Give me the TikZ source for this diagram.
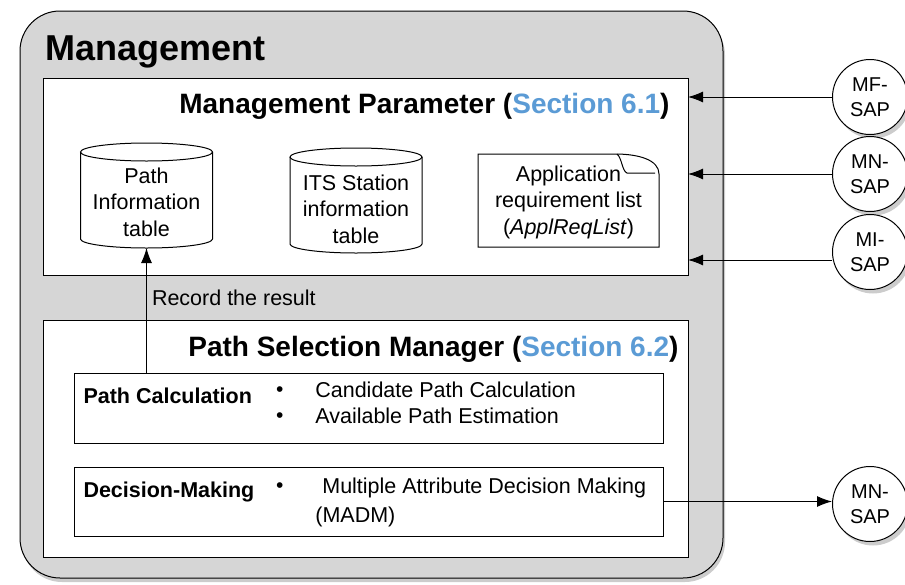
\documentclass[tikz,border=0pt]{standalone}
\usepackage{fontspec}
\setmainfont{Liberation Sans}
\usetikzlibrary{positioning}
\usetikzlibrary{arrows.meta}
\usetikzlibrary{shadows}

\definecolor{secblue}{RGB}{91,155,213}
\definecolor{mgmtgray}{RGB}{214,214,214}

\newcommand{\sect}[1]{{\color{secblue}Section #1}}
\newcommand{\sinkit}[2]{\raisebox{-#1}[\height][\depth]{\begin{tabular}{@{}c@{}}#2\end{tabular}}}
\newcommand{\bul}{\raisebox{1pt}{\fontsize{21}{21}\selectfont •}}
\newcommand{\drawdrum}[1]{%
  \path[draw] ([yshift=-9pt]#1.north west) -- ([yshift=9pt]#1.south west)
    arc[start angle=180, end angle=360, x radius=66pt, y radius=9pt]
    -- ([yshift=-9pt]#1.north east);
  \path[draw] ([yshift=-9pt]#1.north) ellipse[x radius=66pt, y radius=9pt];}

\begin{document}
\begin{tikzpicture}[x=1pt, y=1pt, line width=1pt, >={Latex[length=15pt,width=11pt]},
    panel/.style={draw, fill=white, inner sep=0pt, outer sep=0pt},
    bigtitle/.style={font=\fontsize{36}{40}\selectfont\bfseries, inner sep=0pt},
    headline/.style={font=\fontsize{28}{32}\selectfont\bfseries, inner sep=0pt},
    bodytext/.style={font=\fontsize{21.5}{26.5}\selectfont, inner sep=0pt, outer sep=0pt},
    boldlabel/.style={font=\fontsize{21.5}{26}\selectfont\bfseries, inner sep=0pt},
    drum/.style={bodytext, minimum width=132pt, minimum height=105pt},
    sapnode/.style={circle, draw, fill=white, minimum size=75pt, inner sep=0pt, align=center,
      font=\fontsize{20}{25}\selectfont,
      drop shadow={shadow xshift=3pt, shadow yshift=-4pt, opacity=0.4}}]
  \useasboundingbox (0,0) rectangle (905,-584);

  % management block
  \node[panel, fill=mgmtgray, rounded corners=40pt, minimum width=703pt, minimum height=567pt,
    drop shadow={shadow xshift=2pt, shadow yshift=-4pt, opacity=0.4}] (mgmt) at (371.5,-294.5) {};
  \node[bigtitle, anchor=base west] (mgmttitle) at (45,-60) {Management};

  % parameters
  \node[panel, minimum width=645pt, minimum height=197pt] (param) at (365.5,-176.5) {};
  \node[headline, anchor=base east] (paramtitle) at (670,-113) {Management Parameter (\sect{6.1})};
  \node[drum] (pathtab) at (146.5,-195.5) {\sinkit{9pt}{Path\\Information\\table}};
  \drawdrum{pathtab}
  \node[drum] (itstab) at (356,-200.5) {\sinkit{11pt}{ITS Station\\information\\table}};
  \drawdrum{itstab}
  \node[bodytext, minimum width=181pt, minimum height=93pt] (appl) at (568.5,-200.5)
    {\sinkit{2pt}{Application\\requirement list\\(\textit{ApplReqList})}};
  \path[draw] (appl.south west) -- (appl.north west) -- ([xshift=-44pt]appl.north east)
    .. controls ([xshift=-20pt]appl.north east) and ([yshift=-6pt]appl.north east) .. ([yshift=-20pt]appl.north east)
    -- (appl.south east) -- cycle;
  \path[draw] ([xshift=-42pt]appl.north east)
    .. controls ([xshift=-37pt,yshift=-4pt]appl.north east) and ([xshift=-37pt,yshift=-17pt]appl.north east) .. ([xshift=-32pt,yshift=-19pt]appl.north east)
    -- ([xshift=-4pt,yshift=-19pt]appl.north east);

  % path selection manager
  \node[bodytext, anchor=base west] (record) at (152,-305) {Record the result};
  \node[panel, minimum width=645pt, minimum height=237pt] (sel) at (365.5,-438.5) {};
  \node[headline, anchor=base east] (seltitle) at (679,-356) {Path Selection Manager (\sect{6.2})};

  \node[panel, minimum width=589pt, minimum height=70pt] (calc) at (368.5,-408) {};
  \node[boldlabel, anchor=base west] (calclabel) at (83,-403) {Path Calculation};
  \node[bodytext, anchor=base west] (calclist) at (276,-397)
    {\begin{tabular}[t]{@{}l@{\hspace{32pt}}l@{}}\bul & Candidate Path Calculation\\ \bul & Available Path Estimation\end{tabular}};

  \node[panel, minimum width=589pt, minimum height=69pt] (decide) at (368.5,-501.5) {};
  \node[boldlabel, anchor=base west] (decidelabel) at (83,-497) {Decision-Making};
  \node[bodytext, anchor=base west] (decidelist) at (276,-493)
    {\begin{tabular}[t]{@{}l@{\hspace{32pt}}l@{}}\bul & \hspace{7pt}Multiple Attribute Decision Making\\[3pt] & (MADM)\end{tabular}};

  % service access points
  \node[sapnode] (mf) at (870,-97) {MF-\\SAP};
  \node[sapnode] (mn) at (870,-174) {MN-\\SAP};
  \node[sapnode] (mi) at (870,-252) {MI-\\SAP};
  \node[sapnode] (mnb) at (870,-504) {MN-\\SAP};

  \path[draw, ->] (mf) -- (mf -| param.east);
  \path[draw, ->] (mn) -- (mn -| param.east);
  \path[draw, ->] ([yshift=-8pt]mi.west) -- ([yshift=-8pt]mi.west -| param.east);
  \path[draw, ->] (decide.east) -- (decide.east -| mnb.west);
  \path[draw, ->] (calc.north -| pathtab.south) -- (pathtab.south);
\end{tikzpicture}
\end{document}
